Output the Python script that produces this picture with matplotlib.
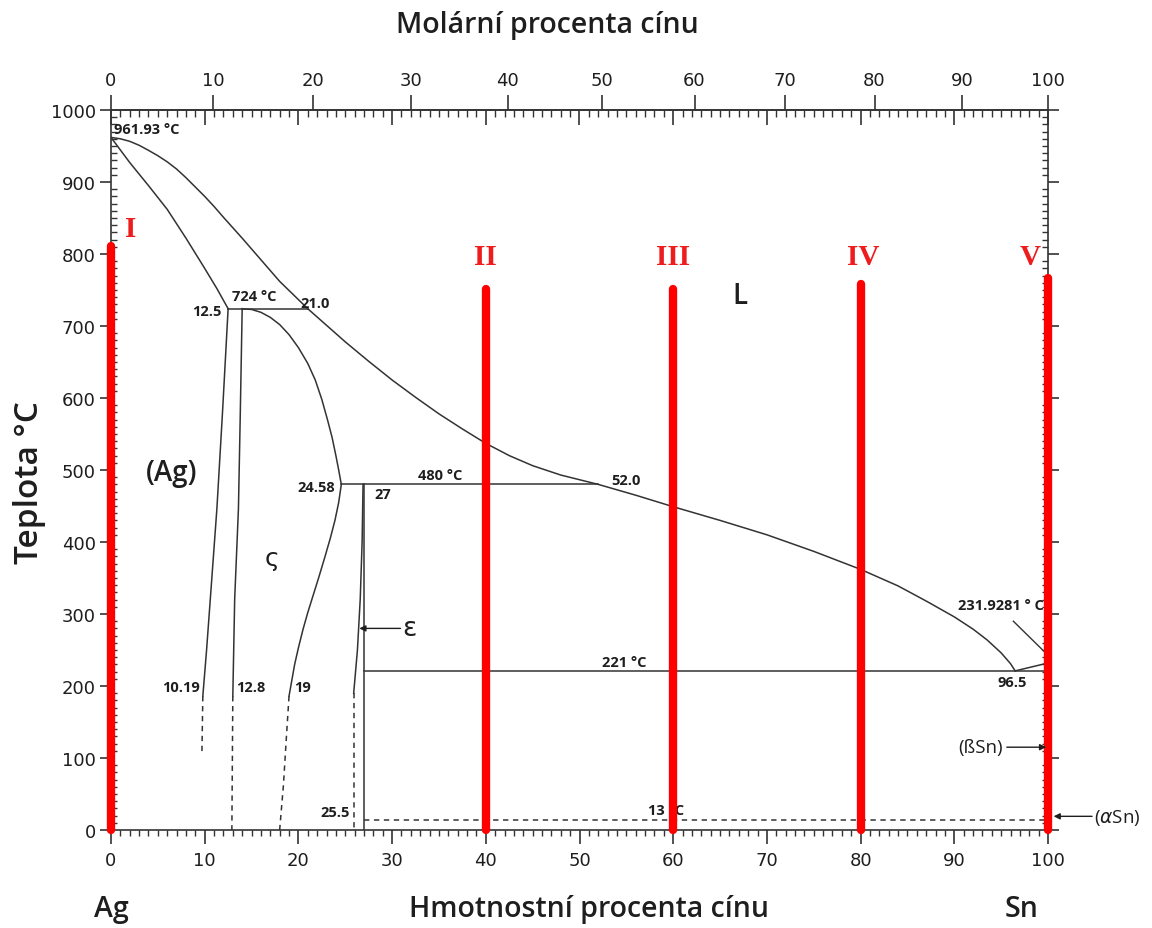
import numpy as np
import matplotlib
matplotlib.use("Agg")
import matplotlib.pyplot as plt
from matplotlib.ticker import MultipleLocator, FixedLocator

# ---------------- data (wt.% Sn, temperature in °C) ----------------
liq_hi_x = [0, 1, 2, 3, 4, 5, 6, 7, 8, 9, 10, 11, 12, 14, 16, 18, 19.5, 21.0]
liq_hi_t = [961.93, 960, 956.5, 951, 944, 936.5, 928, 918, 906, 893, 880,
            866, 851, 822, 792, 762, 743, 724]

liq_lo_x = [21.0, 23, 25, 27.5, 30, 32.5, 35, 37.5, 40, 42.5, 45, 48, 52.0,
            56, 60, 65, 70, 75, 80, 84, 87, 90, 92, 93.5, 95, 96, 96.5]
liq_lo_t = [724, 701, 678, 651, 625, 601, 578, 557, 537, 520, 506, 493, 480,
            465, 449, 430, 410, 387, 362, 339, 318, 296, 279, 264, 246, 231,
            221]

sol_ag_x = [0, 2, 4, 6, 8, 10, 11.3, 12.5]
sol_ag_t = [961.93, 927, 895, 862, 822, 780, 752, 724]

solv_ag_x = [12.5, 11.9, 11.3, 10.6, 10.2, 9.8]
solv_ag_t = [724, 580, 446, 321, 250, 186]
solv_ag_dash_x = [9.8, 9.7]
solv_ag_dash_t = [186, 105]

zeta_l_x = [14.0, 13.8, 13.6, 13.2, 13.0]
zeta_l_t = [724, 580, 446, 321, 186]
zeta_l_dash_x = [13.0, 12.9]
zeta_l_dash_t = [186, 0]

zeta_r_x = [14.0, 15.0, 16.0, 17.0, 18.0, 19.0, 20.0, 21.0, 21.8, 22.5,
            23.1, 23.6, 24.0, 24.3, 24.58,
            24.3, 23.9, 23.4, 22.8, 22.2, 21.6, 21.0, 20.5, 20.0, 19.6,
            19.3, 19.0]
zeta_r_t = [724, 723, 719, 712, 702, 688, 670, 648, 625, 598,
            570, 545, 520, 500, 480,
            455, 430, 405, 378, 352, 327, 302, 279, 253, 230,
            208, 186]
zeta_r_dash_x = [19.0, 18.7, 18.4, 18.0]
zeta_r_dash_t = [186, 125, 62, 0]

eps_l_x = [26.9, 26.8, 26.6, 26.3, 25.9]
eps_l_t = [480, 400, 321, 250, 190]
eps_l_dash_x = [25.9, 25.9]
eps_l_dash_t = [190, 0]

eps_x = 27.0
peritectic_1 = (12.5, 21.0, 724)
peritectic_2 = (24.58, 52.0, 480)
eutectic = (27.0, 100.0, 221)
allotropic = (27.0, 100.0, 13.9)
sn_melt = ([96.5, 100], [221, 231.93])

# red vertical sections (composition, upper temperature)
sec_x = [0, 40, 60, 80, 100]
sec_top = [811, 751, 751, 758, 767]
sec_names = ["I", "II", "III", "IV", "V"]
sec_label_x = [2.1, 40, 60, 80.3, 98.1]
sec_label_t = [835, 796, 796, 796, 796]

M_AG, M_SN = 107.87, 118.71
LINE = "#333333"
TXT = "#1e1e1e"


def wt_to_mol(w):
    w = np.asarray(w, dtype=float)
    with np.errstate(divide="ignore", invalid="ignore"):
        a = w / M_SN
        b = (100 - w) / M_AG
        return 100 * a / (a + b)


def mol_to_wt(x):
    x = np.asarray(x, dtype=float)
    with np.errstate(divide="ignore", invalid="ignore"):
        a = x * M_SN
        b = (100 - x) * M_AG
        return 100 * a / (a + b)


W, H = 1152, 929
fig = plt.figure(figsize=(W / 100, H / 100), dpi=100)
ax = fig.add_axes([111 / W, 1 - 831 / H, (1048 - 111) / W, (831 - 111) / H])
ax.set_xlim(0, 100)
ax.set_ylim(0, 1000)

for s in ax.spines.values():
    s.set_color(LINE)
    s.set_linewidth(1.2)

# bottom axis: wt.% ticks
ax.xaxis.set_major_locator(MultipleLocator(10))
ax.xaxis.set_minor_locator(MultipleLocator(1))
ax.tick_params(axis="x", which="major", direction="out", length=10, width=1.2,
               color=LINE, labelsize=13, labelcolor=TXT, pad=5)
ax.tick_params(axis="x", which="minor", direction="out", length=4.5, width=1,
               color=LINE)
ax.tick_params(axis="x", top=False, which="both")

# temperature axes left and right
ax.yaxis.set_major_locator(MultipleLocator(100))
ax.yaxis.set_minor_locator(MultipleLocator(10))
ax.yaxis.set_ticks_position("both")
ax.tick_params(axis="y", which="major", direction="out", length=8, width=1.2,
               color=LINE, labelsize=13, labelcolor=TXT, pad=3)
ax.tick_params(axis="y", which="minor", direction="in", length=4, width=1,
               color=LINE)

# top axis: wt.% ticks pointing inwards
sec_w = ax.secondary_xaxis("top")
sec_w.xaxis.set_major_locator(MultipleLocator(10))
sec_w.xaxis.set_minor_locator(MultipleLocator(1))
sec_w.tick_params(which="major", direction="in", length=11, width=1.2,
                  color=LINE, labeltop=False)
sec_w.tick_params(which="minor", direction="in", length=4.8, width=1,
                  color=LINE)
sec_w.spines["top"].set_color(LINE)
sec_w.spines["top"].set_linewidth(1.2)

# top axis: mol.% ticks pointing outwards
sec_m = ax.secondary_xaxis("top", functions=(wt_to_mol, mol_to_wt))
sec_m.xaxis.set_major_locator(FixedLocator(np.arange(0, 101, 10)))
sec_m.xaxis.set_minor_locator(FixedLocator([]))
sec_m.tick_params(which="major", direction="out", length=11, width=1.2,
                  color=LINE, labelsize=13, labelcolor=TXT, pad=4)
sec_m.spines["top"].set_visible(False)

# ---------------- phase boundaries ----------------
lw = 1.1
solid = dict(color=LINE, lw=lw, zorder=3, solid_joinstyle="round")
dashed = dict(color=LINE, lw=lw, ls=(0, (3.5, 3)), zorder=3)

ax.plot(liq_hi_x, liq_hi_t, **solid)
ax.plot(liq_lo_x, liq_lo_t, **solid)
ax.plot(sol_ag_x, sol_ag_t, **solid)
ax.plot(solv_ag_x, solv_ag_t, **solid)
ax.plot(solv_ag_dash_x, solv_ag_dash_t, **dashed)
ax.plot(zeta_l_x, zeta_l_t, **solid)
ax.plot(zeta_l_dash_x, zeta_l_dash_t, **dashed)
ax.plot(zeta_r_x, zeta_r_t, **solid)
ax.plot(zeta_r_dash_x, zeta_r_dash_t, **dashed)
ax.plot(eps_l_x, eps_l_t, **solid)
ax.plot(eps_l_dash_x, eps_l_dash_t, **dashed)
ax.plot([eps_x, eps_x], [peritectic_2[2], 0], **solid)

for x0, x1, t in (peritectic_1, peritectic_2, eutectic):
    ax.plot([x0, x1], [t, t], **solid)
ax.plot([allotropic[0], allotropic[1]], [allotropic[2]] * 2, **dashed)
ax.plot(sn_melt[0], sn_melt[1], **solid)

# ---------------- labels inside the diagram ----------------
small = dict(fontfamily="Open Sans", fontweight="bold", fontsize=10.5,
             color=TXT, zorder=4)
ax.text(0.3, 974, "961.93 °C", ha="left", va="center", **small)
ax.text(11.8, 721, "12.5", ha="right", va="center", **small)
ax.text(15.3, 741, "724 °C", ha="center", va="center", **small)
ax.text(20.2, 732, "21.0", ha="left", va="center", **small)
ax.text(23.9, 476, "24.58", ha="right", va="center", **small)
ax.text(28.1, 466, "27", ha="left", va="center", **small)
ax.text(35.1, 493, "480 °C", ha="center", va="center", **small)
ax.text(53.4, 486, "52.0", ha="left", va="center", **small)
ax.text(9.5, 199, "10.19", ha="right", va="center", **small)
ax.text(13.4, 199, "12.8", ha="left", va="center", **small)
ax.text(19.5, 199, "19", ha="left", va="center", **small)
ax.text(25.5, 25, "25.5", ha="right", va="center", **small)
ax.text(59.2, 28, "13 °C", ha="center", va="center", **small)
ax.text(54.8, 233, "221 °C", ha="center", va="center", **small)
ax.text(96.2, 205, "96.5", ha="center", va="center", **small)
ax.text(95.0, 312, "231.9281 ° C", ha="center", va="center", **small)
ax.plot([96.3, 99.9], [290, 244], color=LINE, lw=1.0, zorder=3)

big = dict(fontfamily="Open Sans", fontweight="semibold", color=TXT, zorder=4)
ax.text(67.1, 742, "L", ha="center", va="center", fontsize=20, **big)
ax.text(6.5, 496, "(Ag)", ha="center", va="center", fontsize=20, **big)
ax.text(17.2, 378, "ς", ha="center", va="center", fontsize=18,
        fontfamily="DejaVu Sans", color=TXT)
ax.text(31.8, 280, "ε", ha="center", va="center", fontsize=19,
        fontfamily="DejaVu Sans", color=TXT)

arrow = dict(arrowstyle="-|>", color=TXT, lw=1.0, mutation_scale=9,
             shrinkA=0, shrinkB=0)
ax.annotate("", xy=(26.5, 280), xytext=(30.9, 280), arrowprops=arrow)
ax.annotate("", xy=(99.8, 115), xytext=(95.6, 115), arrowprops=arrow,
            zorder=6)
ax.text(95.2, 115, "(ßSn)", ha="right", va="center", fontsize=13.5,
        fontfamily="Open Sans", color=TXT)
ax.annotate("", xy=(100.6, 19), xytext=(104.7, 19), arrowprops=arrow,
            annotation_clip=False, zorder=6)
ax.text(104.9, 18, r"($\alpha$Sn)", ha="left", va="center", fontsize=13.5,
        fontfamily="Open Sans", color=TXT, clip_on=False)

# ---------------- red vertical sections ----------------
for x, top, name, lx, lt in zip(sec_x, sec_top, sec_names, sec_label_x,
                                sec_label_t):
    ax.plot([x, x], [0, top], color="#ff0000", lw=6, solid_capstyle="round",
            clip_on=False, zorder=5)
    ax.text(lx, lt, name, ha="center", va="center", fontsize=21,
            fontfamily="Liberation Serif", fontweight="bold", color="#ee1c1c",
            zorder=6)

# ---------------- titles ----------------
title = dict(fontfamily="Open Sans", fontweight="semibold", fontsize=20.5,
             color=TXT, ha="center", va="center")
fig.text(547 / W, 1 - 25 / H, "Molární procenta cínu", **title)
fig.text(589 / W, 1 - 910 / H, "Hmotnostní procenta cínu", **title)
fig.text(111 / W, 1 - 910 / H, "Ag", **title)
fig.text(1022 / W, 1 - 910 / H, "Sn", **title)
title_y = dict(title, fontsize=24)
fig.text(30 / W, 1 - 483 / H, "Teplota °C", rotation=90, **title_y)

fig.savefig("out.png", dpi=100, facecolor="white")
